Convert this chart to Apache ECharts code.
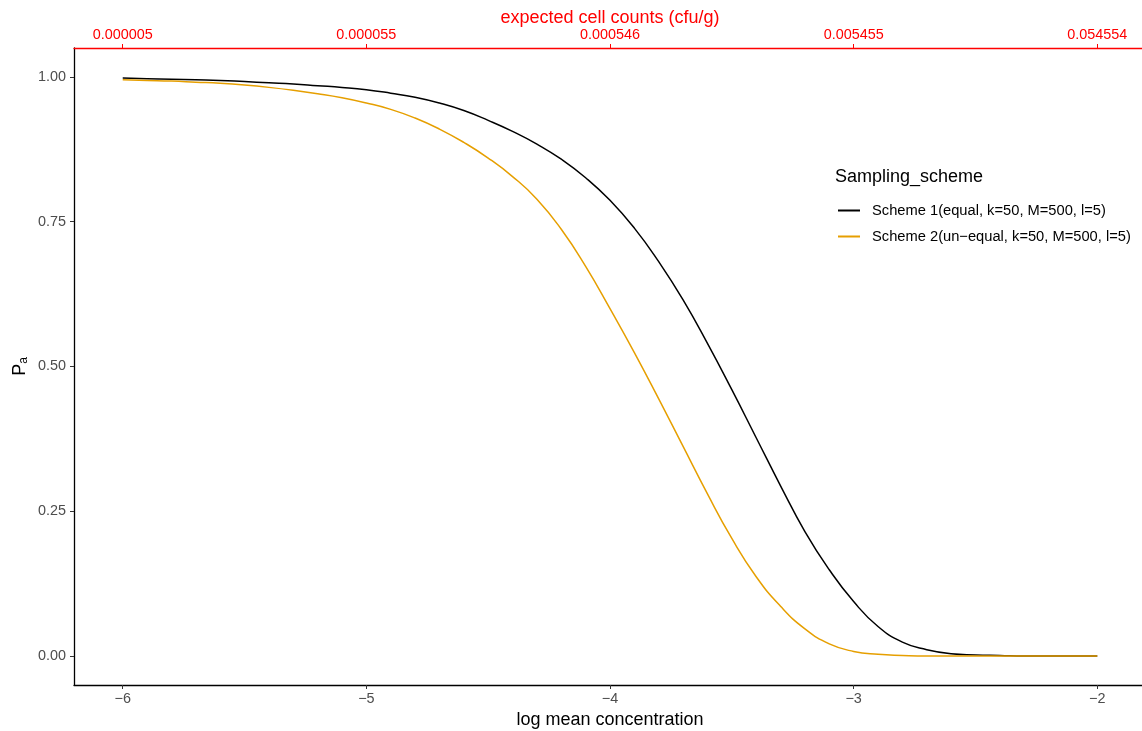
<!DOCTYPE html>
<html>
<head>
<meta charset="utf-8">
<script src="https://cdn.jsdelivr.net/npm/echarts@6/dist/echarts.min.js"></script>
<style>
  html, body { margin: 0; padding: 0; background: #fff; }
  #chart { width: 1142px; height: 731px; }
</style>
</head>
<body>
<div id="chart"></div>
<script>
// log mean concentration grid
const logConc = [
  -6.0, -5.9, -5.8, -5.7, -5.6, -5.5, -5.4, -5.3, -5.2, -5.1,
  -5.0, -4.9, -4.8, -4.7, -4.6, -4.5, -4.4, -4.3, -4.2, -4.1,
  -4.0, -3.9, -3.8, -3.7, -3.6, -3.5, -3.4, -3.3, -3.2, -3.1,
  -3.0, -2.9, -2.8, -2.7, -2.6, -2.5, -2.4, -2.3, -2.2, -2.1, -2.0
];
// Pa, scheme 1 (equal)
const scheme1 = [
  0.998, 0.997, 0.996, 0.995, 0.994, 0.992, 0.990, 0.988, 0.985, 0.982,
  0.978, 0.972, 0.965, 0.955, 0.942, 0.925, 0.906, 0.884, 0.858, 0.826,
  0.787, 0.739, 0.681, 0.615, 0.540, 0.460, 0.377, 0.294, 0.215, 0.149,
  0.094, 0.051, 0.024, 0.011, 0.004, 0.002, 0.001, 0.000, 0.000, 0.000, 0.000
];
// Pa, scheme 2 (un-equal)
const scheme2 = [
  0.995, 0.994, 0.993, 0.991, 0.989, 0.986, 0.982, 0.977, 0.971, 0.964,
  0.955, 0.944, 0.929, 0.910, 0.887, 0.860, 0.828, 0.789, 0.737, 0.673,
  0.600, 0.524, 0.444, 0.362, 0.280, 0.203, 0.137, 0.086, 0.047, 0.021,
  0.008, 0.003, 0.001, 0.000, 0.000, 0.000, 0.000, 0.000, 0.000, 0.000, 0.000
];
const seriesNames = [
  'Scheme 1(equal, k=50, M=500, l=5)',
  'Scheme 2(un\u2212equal, k=50, M=500, l=5)'
];
const seriesColors = ['#000000', '#E69F00'];

const bottomTicks = [-6, -5, -4, -3, -2];
const topTickLabels = ['0.000005', '0.000055', '0.000546', '0.005455', '0.054554'];
const yTicks = [0, 0.25, 0.5, 0.75, 1];

const font = "'Liberation Sans', Arial, sans-serif";
const chart = echarts.init(document.getElementById('chart'));

const toPairs = (ys) => logConc.map((x, i) => [x, ys[i]]);

chart.setOption({
  animation: false,
  textStyle: { fontFamily: font },
  grid: { left: 74, right: -4, top: 48, bottom: 46, containLabel: false, outerBoundsMode: 'none' },
  title: {
    text: 'Sampling_scheme',
    left: 830, top: 163,
    textStyle: { fontFamily: font, fontSize: 18, fontWeight: 'normal', color: '#000' }
  },
  legend: {
    orient: 'vertical',
    left: 833, top: 198,
    itemWidth: 22, itemHeight: 2, itemGap: 11,
    icon: 'rect',
    textStyle: { fontFamily: font, fontSize: 14.7, color: '#000', padding: [0, 0, 0, 7] },
    data: seriesNames
  },
  xAxis: [
    {
      type: 'value', position: 'bottom',
      min: -6.2, max: -1.8,
      name: 'log mean concentration', nameLocation: 'middle', nameGap: 26, nameMoveOverlap: false,
      nameTextStyle: { fontFamily: font, fontSize: 18, color: '#000' },
      axisLine: { onZero: false, lineStyle: { color: '#000', width: 1.3 } },
      axisTick: { show: true, length: 4, customValues: bottomTicks, lineStyle: { color: '#333' } },
      axisLabel: {
        customValues: bottomTicks, fontSize: 14.4, color: '#4d4d4d', margin: 7,
        formatter: (v) => String(v).replace('-', '\u2212')
      },
      splitLine: { show: false }
    },
    {
      type: 'value', position: 'top',
      min: -6.2, max: -1.8,
      name: 'expected cell counts (cfu/g)', nameLocation: 'middle', nameGap: 21, nameMoveOverlap: false,
      nameTextStyle: { fontFamily: font, fontSize: 18, color: '#ff0000' },
      axisLine: { onZero: false, lineStyle: { color: '#ff0000', width: 1.3 } },
      axisTick: { show: true, length: 4, customValues: bottomTicks, lineStyle: { color: '#ff0000' } },
      axisLabel: {
        customValues: bottomTicks, fontSize: 14.4, color: '#ff0000', margin: 6,
        formatter: (v) => topTickLabels[bottomTicks.indexOf(Math.round(v))] || ''
      },
      splitLine: { show: false }
    }
  ],
  yAxis: {
    type: 'value',
    min: -0.05, max: 1.05,
    name: '{p|P}{s|a}', nameLocation: 'middle', nameGap: 44, nameRotate: 90, nameMoveOverlap: false,
    nameTextStyle: {
      rich: {
        p: { fontFamily: font, fontSize: 18, color: '#000' },
        s: { fontFamily: font, fontSize: 12, color: '#000', verticalAlign: 'bottom', padding: [8, 0, 0, 0] }
      }
    },
    axisLine: { show: true, onZero: false, lineStyle: { color: '#000', width: 1.3 } },
    axisTick: { show: true, length: 4, customValues: yTicks, lineStyle: { color: '#333' } },
    axisLabel: {
      customValues: yTicks, fontSize: 14.4, color: '#4d4d4d', margin: 8,
      formatter: (v) => v.toFixed(2)
    },
    splitLine: { show: false }
  },
  series: [
    {
      name: seriesNames[0], type: 'line', xAxisIndex: 0,
      data: toPairs(scheme1), showSymbol: false, smooth: 0.5,
      lineStyle: { color: seriesColors[0], width: 1.5 }, itemStyle: { color: seriesColors[0] }
    },
    {
      name: seriesNames[1], type: 'line', xAxisIndex: 0,
      data: toPairs(scheme2), showSymbol: false, smooth: 0.5,
      lineStyle: { color: seriesColors[1], width: 1.5 }, itemStyle: { color: seriesColors[1] }
    }
  ]
});
</script>
</body>
</html>
